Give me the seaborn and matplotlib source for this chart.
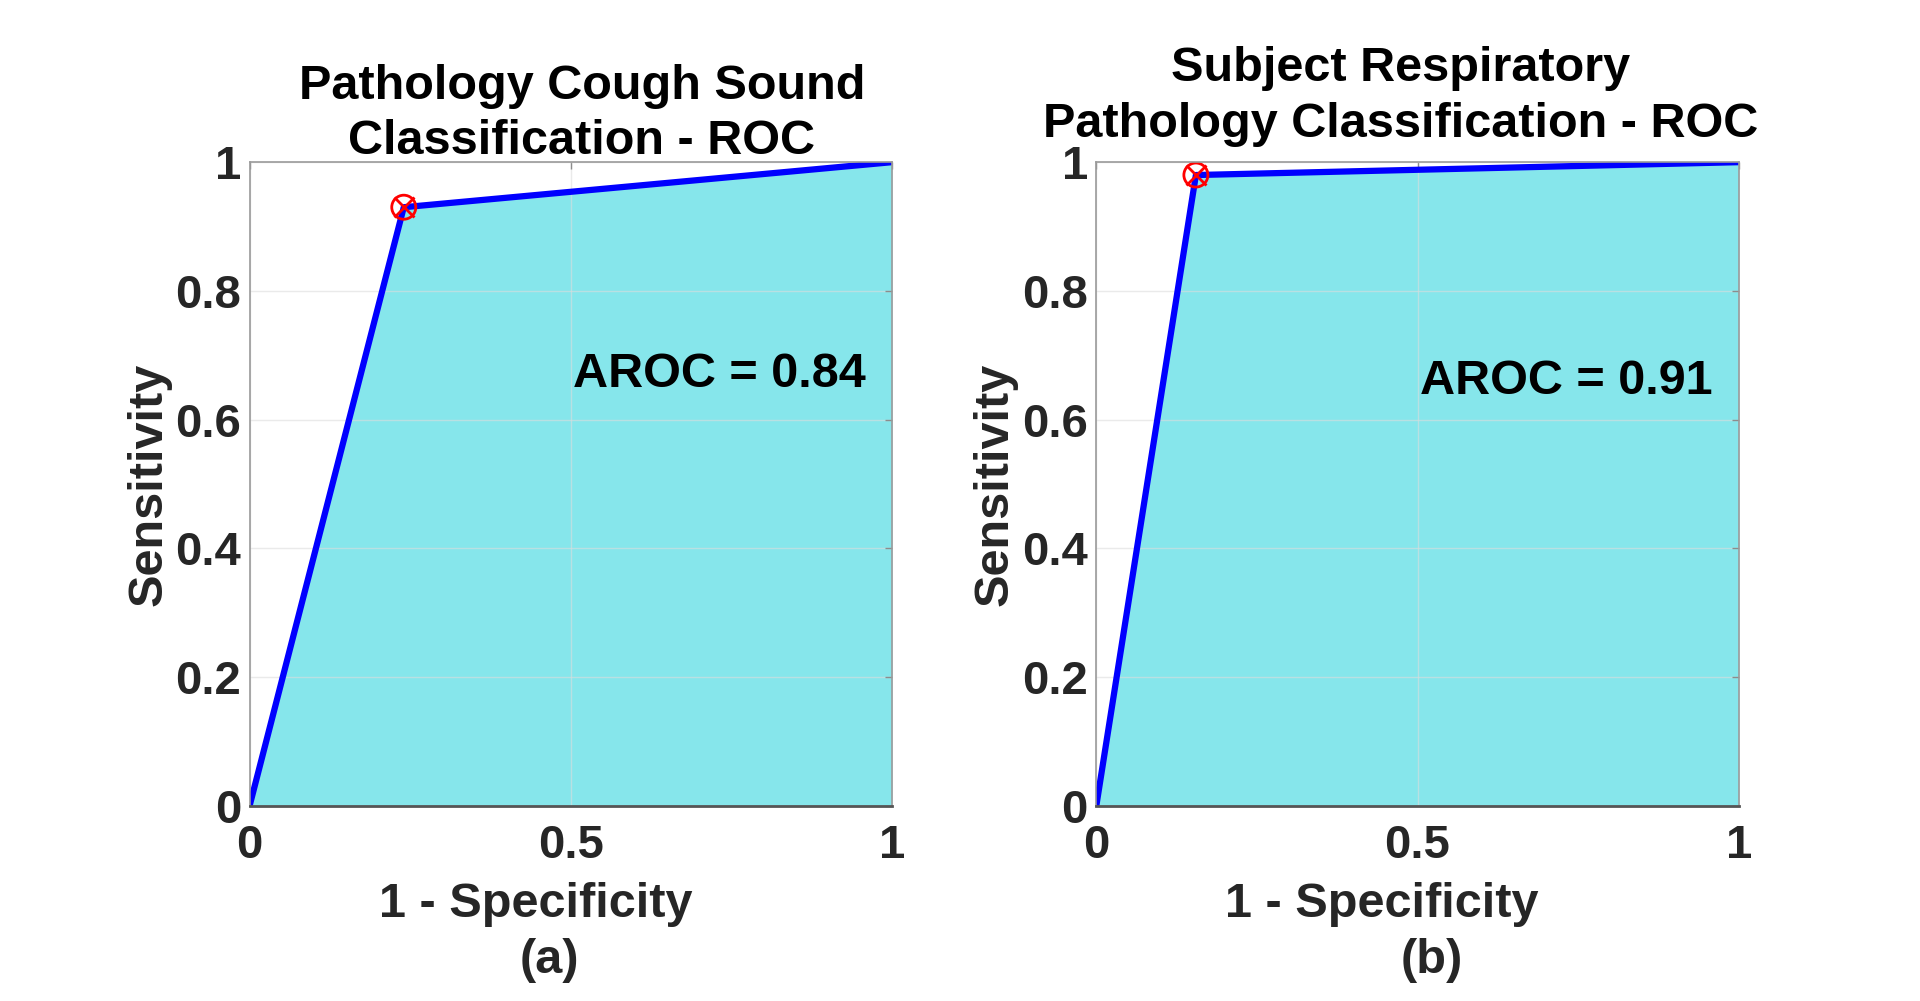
import numpy as np
import pandas as pd
import seaborn as sns
import matplotlib
matplotlib.use('Agg')
import matplotlib.pyplot as plt

# ROC operating points
fpr_a = [0.0, 0.24, 1.0]
tpr_a = [0.0, 0.93, 1.0]
fpr_b = [0.0, 0.155, 1.0]
tpr_b = [0.0, 0.98, 1.0]
aroc = [0.84, 0.91]
aroc_y = [0.67, 0.66]
titles = ['Pathology Cough Sound\nClassification - ROC',
          'Subject Respiratory\nPathology Classification - ROC']
captions = ['(a)', '(b)']
xticks = [0, 0.5, 1]
yticks = [0, 0.2, 0.4, 0.6, 0.8, 1]

sns.set_theme(style='whitegrid')
plt.rcParams['font.family'] = ['Liberation Sans', 'DejaVu Sans']
plt.rcParams['font.weight'] = 'bold'

fig = plt.figure(figsize=(19.2, 10.01), dpi=100)
axes = [fig.add_axes([0.130, 0.195, 0.3346, 0.643]),
        fig.add_axes([0.571, 0.195, 0.3346, 0.643])]

panels = [(fpr_a, tpr_a), (fpr_b, tpr_b)]
title_y = [1.075, 1.102]
title_x = [0.517, 0.474]
caption_x = [0.467, 0.522]

for i, ax in enumerate(axes):
    fpr, tpr = panels[i]
    df = pd.DataFrame({'fpr': fpr, 'tpr': tpr})
    ax.fill_between(df['fpr'], df['tpr'], 0, color='#86E6EB', zorder=1, lw=0)
    sns.lineplot(data=df, x='fpr', y='tpr', ax=ax, color='#0000FF', lw=4.5,
                 sort=False, zorder=3)
    op = df.iloc[[1]]
    sns.scatterplot(data=op, x='fpr', y='tpr', ax=ax, marker='o', s=300,
                    facecolor='none', edgecolor='red', linewidth=2, zorder=4)
    ax.plot(op['fpr'], op['tpr'], marker='x', color='red', ms=14, mew=2,
            ls='none', zorder=5)

    ax.set_xlim(0, 1)
    ax.set_ylim(0, 1)
    ax.set_xticks(xticks)
    ax.set_yticks(yticks)
    ax.set_xticklabels([f'{t:g}' for t in xticks])
    ax.set_yticklabels([f'{t:g}' for t in yticks])
    ax.tick_params(labelsize=34, direction='in', length=5, width=1,
                   colors='#8c8c8c', labelcolor='#262626',
                   top=True, right=True)
    ax.tick_params(axis='x', pad=13)
    ax.tick_params(axis='y', pad=6)
    ax.set_axisbelow(False)
    ax.grid(True, color='#dcdcdc', lw=1, alpha=0.6, zorder=2)
    for name, sp in ax.spines.items():
        sp.set_color('#9a9a9a')
        sp.set_linewidth(1.2)
        sp.set_zorder(6)
    ax.spines['bottom'].set_color('#555555')
    ax.spines['bottom'].set_linewidth(2)

    ax.set_xlabel('1 - Specificity', fontsize=35, fontweight='bold',
                  color='#262626')
    ax.set_ylabel('Sensitivity', fontsize=35, fontweight='bold',
                  color='#262626')
    ax.xaxis.set_label_coords(0.445, -0.118)
    ax.yaxis.set_label_coords(-0.122, 0.5)
    ax.text(title_x[i], title_y[i], titles[i], transform=ax.transAxes,
            ha='center', va='center', fontsize=35, fontweight='bold',
            color='black', linespacing=1.3)
    ax.text(0.732, aroc_y[i], f'AROC = {aroc[i]:.2f}', transform=ax.transData,
            ha='center', va='center', fontsize=35, fontweight='bold',
            color='black', zorder=7)
    ax.text(caption_x[i], -0.24, captions[i], transform=ax.transAxes,
            ha='center', va='center', fontsize=35, fontweight='bold',
            color='#262626')

fig.savefig('out.png', dpi=100, facecolor='white')
